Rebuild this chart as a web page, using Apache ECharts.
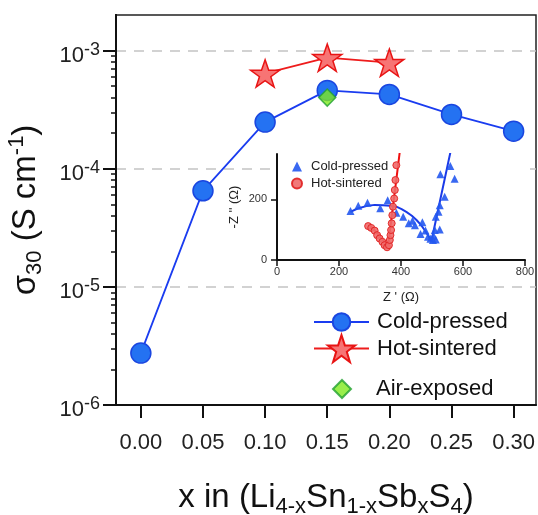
<!DOCTYPE html>
<html>
<head>
<meta charset="utf-8">
<script src="https://cdn.jsdelivr.net/npm/echarts@6/dist/echarts.min.js"></script>
<style>
html,body{margin:0;padding:0;background:#fff;}
#c{width:538px;height:515px;}
</style>
</head>
<body>
<div id="c"></div>
<script>
// ---- main chart data ----
const xTickValues = [0, 0.05, 0.10, 0.15, 0.20, 0.25, 0.30];
const yTickValues = [1e-6, 1e-5, 1e-4, 1e-3];
const yMinorTickValues = [2e-6,3e-6,4e-6,5e-6,6e-6,7e-6,8e-6,9e-6,
  2e-5,3e-5,4e-5,5e-5,6e-5,7e-5,8e-5,9e-5,
  2e-4,3e-4,4e-4,5e-4,6e-4,7e-4,8e-4,9e-4];
const xCold = [0, 0.05, 0.10, 0.15, 0.20, 0.25, 0.30];
const sigmaCold = [2.75e-6, 6.5e-5, 2.48e-4, 4.6e-4, 4.25e-4, 2.88e-4, 2.08e-4];
const xHot = [0.10, 0.15, 0.20];
const sigmaHot = [6.4e-4, 8.7e-4, 7.9e-4];
const xAir = [0.15];
const sigmaAir = [4.0e-4];

// ---- inset (Nyquist) data ----
const insetXTicks = [0, 200, 400, 600, 800];
const insetYTicks = [0, 200];
const coldZre = [237, 262, 292, 333, 357, 385, 407, 425, 437, 445, 463, 469, 479, 487, 495, 503, 509, 512, 505, 512, 521, 525, 525, 527, 541, 559, 573];
const coldZim = [162, 179, 189, 171, 197, 156, 143, 121, 130, 115, 86, 125, 97, 77, 70, 66, 99, 68, 80, 143, 159, 101, 181, 283, 209, 310, 268];
const hotZre = [294, 304, 315, 323, 331, 340, 347, 355, 361, 364, 366, 368, 370, 372, 374, 378, 380, 382, 385];
const hotZim = [112, 106, 97, 82, 71, 60, 49, 42, 49, 66, 82, 99, 121, 148, 176, 203, 231, 264, 313];
const coldFitZre = [237, 260, 288, 315, 342, 365, 385, 402, 417, 435, 450, 465, 476, 487, 493, 498, 559];
const coldFitZim = [159, 170, 178, 182, 181, 179, 176, 168, 159, 146, 132, 115, 99, 82, 71, 62, 354];
const hotFitZre = [297, 310, 321, 332, 342, 350, 358, 396];
const hotFitZim = [115, 103, 91, 78, 66, 55, 44, 357];

const zip = (a, b) => a.map((v, i) => [v, b[i]]);
const FONT = 'Liberation Sans, Arial, sans-serif';
const STAR = 'path://M50,2 L61.8,36.2 L97.6,36.2 L68.6,57.4 L79.6,91.6 L50,70.4 L20.4,91.6 L31.4,57.4 L2.4,36.2 L38.2,36.2 Z';

const chart = echarts.init(document.getElementById('c'), null, {renderer: 'canvas'});
chart.setOption({
  animation: false,
  backgroundColor: '#fff',
  textStyle: {fontFamily: FONT},
  grid: [
    {left: 116, top: 15, right: 2, bottom: 110, show: true, borderColor: '#222', borderWidth: 1.5,
     backgroundColor: 'transparent', containLabel: false, outerBoundsMode: 'none'},
    {left: 277, top: 154, right: 13, bottom: 255, show: true, borderWidth: 0, backgroundColor: '#fff',
     z: 1, containLabel: false, outerBoundsMode: 'none'}
  ],
  xAxis: [
    {gridIndex: 0, type: 'value', min: -0.02, max: 0.318, position: 'bottom',
     axisLine: {show: true, onZero: false, lineStyle: {color: '#111', width: 2}},
     axisTick: {show: true, customValues: xTickValues, length: 13, lineStyle: {color: '#111', width: 2}},
     axisLabel: {customValues: xTickValues, formatter: v => v.toFixed(2), fontSize: 22, color: '#222', margin: 27, fontFamily: FONT},
     splitLine: {show: false},
     name: '{a|x in (Li}{b|4-x}{a|Sn}{b|1-x}{a|Sb}{b|x}{a|S}{b|4}{a|)}',
     nameLocation: 'middle', nameGap: 73,
     nameTextStyle: {rich: {
       a: {fontSize: 33, lineHeight: 40, color: '#111', fontFamily: FONT},
       b: {fontSize: 22, lineHeight: 22, verticalAlign: 'bottom', color: '#111', fontFamily: FONT}
     }}
    },
    {gridIndex: 1, type: 'value', min: 0, max: 800, interval: 200, z: 2, position: 'bottom',
     axisLine: {show: true, onZero: false, lineStyle: {color: '#111', width: 2}},
     axisTick: {show: true, length: 6, lineStyle: {color: '#111', width: 1.5}},
     axisLabel: {fontSize: 11, color: '#333', margin: 6, fontFamily: FONT},
     splitLine: {show: false},
     name: "Z ' (Ω)", nameLocation: 'middle', nameGap: 31,
     nameTextStyle: {fontSize: 13, color: '#222', fontFamily: FONT}
    }
  ],
  yAxis: [
    {gridIndex: 0, type: 'log', logBase: 10, min: 1e-6, max: 2e-3, position: 'left',
     axisLine: {show: true, onZero: false, lineStyle: {color: '#111', width: 2}},
     axisTick: {show: true, customValues: yTickValues, length: 13, lineStyle: {color: '#111', width: 2}},
     axisLabel: {customValues: yTickValues, margin: 16, padding: [6, 0, 0, 0],
       formatter: v => '{b|10}{s|' + Math.round(Math.log10(v)) + '}',
       rich: {
         b: {fontSize: 22, lineHeight: 26, verticalAlign: 'bottom', color: '#222', fontFamily: FONT},
         s: {fontSize: 18, lineHeight: 17, verticalAlign: 'top', color: '#222', fontFamily: FONT}
       }},
     splitLine: {show: true, lineStyle: {color: '#c4c4c4', width: 1.5, type: [10, 8]}},
     name: '{a|σ}{b|30}{a| (S cm}{c|-1}{a|)}',
     nameLocation: 'middle', nameGap: 70, nameRotate: 90,
     nameTextStyle: {rich: {
       a: {fontSize: 33, lineHeight: 40, color: '#111', fontFamily: FONT},
       b: {fontSize: 22, lineHeight: 22, verticalAlign: 'bottom', color: '#111', fontFamily: FONT},
       c: {fontSize: 22, lineHeight: 22, verticalAlign: 'top', color: '#111', fontFamily: FONT}
     }}
    },
    {gridIndex: 0, type: 'log', logBase: 10, min: 1e-6, max: 2e-3, position: 'left', offset: 0, z: 3,
     axisLine: {show: true, onZero: false, lineStyle: {color: '#111', width: 2}},
     axisTick: {show: true, customValues: yMinorTickValues, length: 5, lineStyle: {color: '#111', width: 1.5}},
     axisLabel: {show: false},
     splitLine: {show: false}
    },
    {gridIndex: 1, type: 'value', min: 0, max: 350, z: 2, position: 'left',
     axisLine: {show: true, onZero: false, lineStyle: {color: '#111', width: 2}},
     axisTick: {show: true, customValues: insetYTicks, length: 6, lineStyle: {color: '#111', width: 1.5}},
     axisLabel: {customValues: insetYTicks, fontSize: 11, color: '#333', margin: 10, fontFamily: FONT},
     splitLine: {show: false},
     name: "-Z '' (Ω)", nameLocation: 'middle', nameGap: 36, nameRotate: 90,
     nameTextStyle: {fontSize: 13, color: '#222', fontFamily: FONT}
    }
  ],
  legend: [
    {left: 308, top: 306, itemWidth: 55, itemHeight: 22, selectedMode: false, data: ['Cold-pressed'],
     textStyle: {fontSize: 22, color: '#111', fontFamily: FONT, padding: [0, 0, 0, 3]}},
    {left: 308, top: 329, itemWidth: 55, itemHeight: 34, selectedMode: false, data: ['Hot-sintered'],
     textStyle: {fontSize: 22, color: '#111', fontFamily: FONT, padding: [0, 0, 0, 3]}},
    {left: 327, top: 373, itemWidth: 18, itemHeight: 18, selectedMode: false,
     data: ['Air-exposed'],
     textStyle: {fontSize: 22, color: '#111', fontFamily: FONT, padding: [0, 0, 0, 20]}},
    {left: 286, top: 155, orient: 'vertical', itemWidth: 10, itemHeight: 10, itemGap: 4, selectedMode: false,
     data: ['Cold-pressed (EIS)', 'Hot-sintered (EIS)'], formatter: n => n.replace(' (EIS)', ''),
     textStyle: {fontSize: 13, color: '#222', fontFamily: FONT, padding: [0, 0, 0, 4]}}
  ],
  series: [
    {name: 'Cold-pressed', type: 'line', xAxisIndex: 0, yAxisIndex: 0, z: 3,
     data: zip(xCold, sigmaCold), symbol: 'circle', symbolSize: 20,
     lineStyle: {color: '#1a3cf0', width: 1.8},
     itemStyle: {color: '#2472f2', borderColor: '#1a46e0', borderWidth: 1.5}},
    {name: 'Hot-sintered', type: 'line', xAxisIndex: 0, yAxisIndex: 0, z: 4,
     data: zip(xHot, sigmaHot), symbol: STAR, symbolSize: 29, symbolKeepAspect: true,
     lineStyle: {color: '#ee1c1c', width: 1.8},
     itemStyle: {color: '#f77474', borderColor: '#e81414', borderWidth: 1.5}},
    {name: 'Air-exposed', type: 'scatter', xAxisIndex: 0, yAxisIndex: 0, z: 5,
     data: zip(xAir, sigmaAir), symbol: 'diamond', symbolSize: 17,
     itemStyle: {color: '#7fea1e', borderColor: '#20a030', borderWidth: 1.5}},
    {name: 'coldFit', type: 'line', xAxisIndex: 1, yAxisIndex: 2, z: 6,
     data: zip(coldFitZre, coldFitZim), symbol: 'none', smooth: false,
     lineStyle: {color: '#1a3ae8', width: 2}},
    {name: 'hotFit', type: 'line', xAxisIndex: 1, yAxisIndex: 2, z: 6,
     data: zip(hotFitZre, hotFitZim), symbol: 'none', smooth: false,
     lineStyle: {color: '#f01010', width: 2}},
    {name: 'Cold-pressed (EIS)', type: 'scatter', xAxisIndex: 1, yAxisIndex: 2, z: 7,
     data: zip(coldZre, coldZim), symbol: 'triangle', symbolSize: 8,
     itemStyle: {color: '#2358f0', opacity: 0.9}},
    {name: 'Hot-sintered (EIS)', type: 'scatter', xAxisIndex: 1, yAxisIndex: 2, z: 7,
     data: zip(hotZre, hotZim), symbol: 'circle', symbolSize: 7,
     itemStyle: {color: '#f06a6a', borderColor: '#e02020', borderWidth: 1, opacity: 0.9}}
  ]
});
</script>
</body>
</html>
